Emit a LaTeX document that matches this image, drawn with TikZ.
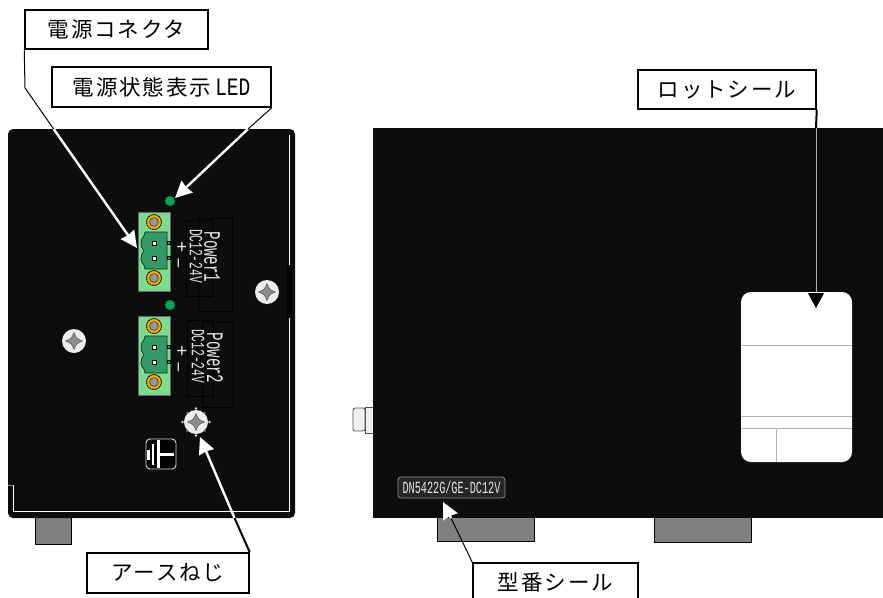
\documentclass[tikz,border=0pt]{standalone}
\usepackage{fontspec}
\usetikzlibrary{arrows.meta}
\newfontfamily\jpfont[LetterSpace=9]{Noto Sans CJK JP}
\newfontfamily\narrowfont[FakeStretch=0.6]{Liberation Mono}
\newfontfamily\ledfont[FakeStretch=0.78]{Liberation Mono}
\newfontfamily\markfont{Liberation Sans}
\definecolor{panel}{HTML}{0D0D0D}
\definecolor{lightgreen}{HTML}{7FDB8F}
\definecolor{darkgreen}{HTML}{339966}
\definecolor{ledgreen}{HTML}{00A651}
\definecolor{ringgold}{HTML}{F5AE00}
\tikzset{
  callout/.style={draw=black,line width=1.5pt,fill=white,inner sep=0pt,
    font=\jpfont\fontsize{21.5}{22}\selectfont},
  leaderout/.style={draw=black,line width=1pt},
  leaderin/.style={draw=white,line width=2.4pt,->},
  printed/.style={text=white!90!black,inner sep=0pt,rotate=-90},
  cross/.style={fill=black!45,draw=black!70,line width=0.4pt}
}
\begin{document}
\begin{tikzpicture}[x=1pt,y=-1pt,>={Stealth[inset=1pt,length=16.5pt,width=16pt]}]
\useasboundingbox (0,0) rectangle (883,597);
%tabs under the panels
\foreach \xa/\xb/\yb in {35/71/544,437/534/541,654/751/542}
{
  \draw[fill=black!50,line width=1pt] (\xa,510) rectangle (\xb,\yb);
}
%stub on the side
\draw[fill=black!6,draw=black!70,line width=0.8pt] (365,407) rectangle (375,433);
\draw[fill=black!6,draw=black!70,line width=0.8pt,rounded corners=2pt]
  (365,408) -- (353,408) -- (353,431) -- (365,431) -- cycle;
%front panel
\fill[panel,rounded corners=5pt] (8,129) rectangle (295,518);
\draw[white,line width=0.8pt] (289.5,135) -- (289.5,265);
\fill[black] (287,265) rectangle (292,318);
\draw[white,line width=0.8pt] (289.5,318) -- (289.5,511) -- (13,511) -- (13,485);
\draw[black!45,line width=0.8pt] (13,485) -- (8,485);
%side panel
\fill[panel] (373,128) rectangle (883,518);
%lot seal
\fill[white,rounded corners=10pt] (741,292) rectangle (852,462);
\draw[black!30,line width=0.9pt] (741,345) -- (852,345);
\draw[black!30,line width=0.9pt] (741,416) -- (852,416);
\draw[black!30,line width=0.9pt] (741,428) -- (852,428);
\draw[black!30,line width=0.9pt] (776,428) -- (776,462);
%model plate
\draw[fill=black!85,draw=black!45,line width=0.8pt,rounded corners=3pt]
  (398,477) rectangle (505,498);
\node[text=white!90!black,inner sep=0pt] (modelname) at (451.5,487.5)
  {\narrowfont\fontsize{17}{17}\selectfont DN5422G/GE-DC12V};
%power connectors
\foreach \n/\dy in {1/0,2/104}
{
  \begin{scope}[shift={(0,\dy)}]
    \draw[fill=lightgreen,draw=black!60,line width=1pt] (138.5,212) rectangle (170.5,291);
    \foreach \sy in {222,278}
    {
      \fill[black] (154,\sy) circle (7.8pt);
      \draw[fill=ringgold,draw=black,line width=0.6pt,dash pattern=on 1pt off 1pt] (154,\sy) circle (7.3pt);
      \draw[fill=black!40,draw=black!80,line width=0.6pt] (154,\sy) circle (4.4pt);
    }
    \draw[fill=darkgreen,draw=black!70!darkgreen,line width=0.7pt]
      (145,232) -- (167,232) -- (167,269) -- (145,269) -- (144,265)
      .. controls (140,262) and (140,255) .. (144,251)
      .. controls (140,247) and (140,239) .. (144,236) -- cycle;
    \foreach \py in {243,258}
    {
      \draw[fill=white,draw=black,line width=0.4pt] (152,\py-2) rectangle (156,\py+2);
      \draw[fill=darkgreen,draw=black,line width=0.4pt] (167,\py-2) rectangle (170,\py+1);
    }
    \fill[ledgreen] (170,201) circle (5pt);
    \node[printed,font=\markfont\fontsize{19}{19}\selectfont] (plus\n) at (181,247) {+};
    \node[text=white!90!black,inner sep=0pt,font=\markfont\fontsize{18}{18}\selectfont,rotate=90] (minus\n) at (181,263) {−};
  \end{scope}
}
%printed boxes and names
\draw[black,line width=0.7pt] (186,220) rectangle (212,296);
\draw[black,line width=0.7pt] (198,218) rectangle (232,311);
\draw[black,line width=0.7pt] (187,320) rectangle (213,396);
\draw[black,line width=0.7pt] (202,322) rectangle (233,407);
\node[printed] (power1) at (212,257) {\narrowfont\fontsize{23.6}{24}\selectfont Power1};
\node[printed] (rating1) at (196,256) {\narrowfont\fontsize{18.7}{19}\selectfont DC12-24V};
\node[printed] (power2) at (215,358) {\narrowfont\fontsize{23.6}{24}\selectfont Power2};
\node[printed] (rating2) at (198,356) {\narrowfont\fontsize{18.7}{19}\selectfont DC12-24V};
%screws
\foreach \sx/\sy in {267/292,74/341,196/422}
{
  \begin{scope}[shift={(\sx,\sy)}]
    \fill[black!7] (0,0) circle (12pt);
    \draw[cross] (0,-8.5) .. controls (2.5,-2.5) .. (8.5,0) .. controls (2.5,2.5) .. (0,8.5)
      .. controls (-2.5,2.5) .. (-8.5,0) .. controls (-2.5,-2.5) .. (0,-8.5) -- cycle;
  \end{scope}
}
%teeth of the earth screw
\foreach \a in {45,135,225,315}
{
  \fill[black!55] (196,422) ++(\a:12.5pt) circle (1.3pt);
}
\foreach \a in {0,90,180,270}
{
  \fill[black!15] (196,422) ++(\a:13.5pt) circle (1.3pt);
}
%earth mark
\draw[draw=black!15,fill=black,line width=0.9pt,rounded corners=4pt] (146,439) rectangle (176,469);
\fill[white] (147,450) rectangle (149.5,460);
\fill[white] (152,444) rectangle (154,465);
\fill[white] (156.5,440) rectangle (159.5,468);
\fill[white] (159,453) rectangle (174,455.5);
%callouts
\node[callout,minimum width=183pt,minimum height=39pt] (connbox) at (116.5,29.5) {電源コネクタ};
\node[callout,minimum width=219pt,minimum height=40pt] (ledbox) at (161.5,87) {電源状態表示\hspace{4pt}{\ledfont\fontsize{25}{25}\selectfont LED}};
\node[callout,minimum width=178pt,minimum height=39pt] (lotbox) at (727,89.5) {ロットシール};
\node[callout,minimum width=162pt,minimum height=40pt] (earthbox) at (168,573) {アースねじ};
\node[callout,minimum width=165pt,minimum height=38pt] (modelbox) at (555.5,582) {型番シール};
%leader lines, black outside the panels and white on them
\coordinate (connin) at (53.7,129);
\coordinate (conntip) at (137,248);
\coordinate (ledin) at (248,129);
\coordinate (ledtip) at (175,198);
\coordinate (earthin) at (234.5,518);
\coordinate (earthtip) at (200,437);
\coordinate (modelin) at (451,518);
\coordinate (modeltip) at (443,502);
\coordinate (lotin) at (816,128);
\coordinate (lotedge) at (816,293);
\coordinate (lottip) at (816,308);
\draw[leaderout] (connbox.south west) -- (25,88) -- (connin);
\draw[leaderin] (connin) -- (conntip);
\draw[leaderout] (ledbox.south east) -- (ledin);
\draw[leaderin] (ledin) -- (ledtip);
\draw[leaderout,line width=2pt] (earthbox.north east) -- (earthin);
\draw[leaderin] (earthin) -- (earthtip);
\draw[leaderout] (modelbox.north west) -- (modelin);
\draw[leaderin] (modelin) -- (modeltip);
\draw[leaderout,line width=2pt] (lotbox.south east) -- (lotin);
\draw[draw=black!30,line width=1pt] (lotin) -- (lotedge);
\draw[-{Stealth[inset=0pt,length=15pt,width=16pt]},draw=black,line width=1pt] (lotedge) -- (lottip);
\end{tikzpicture}
\end{document}
